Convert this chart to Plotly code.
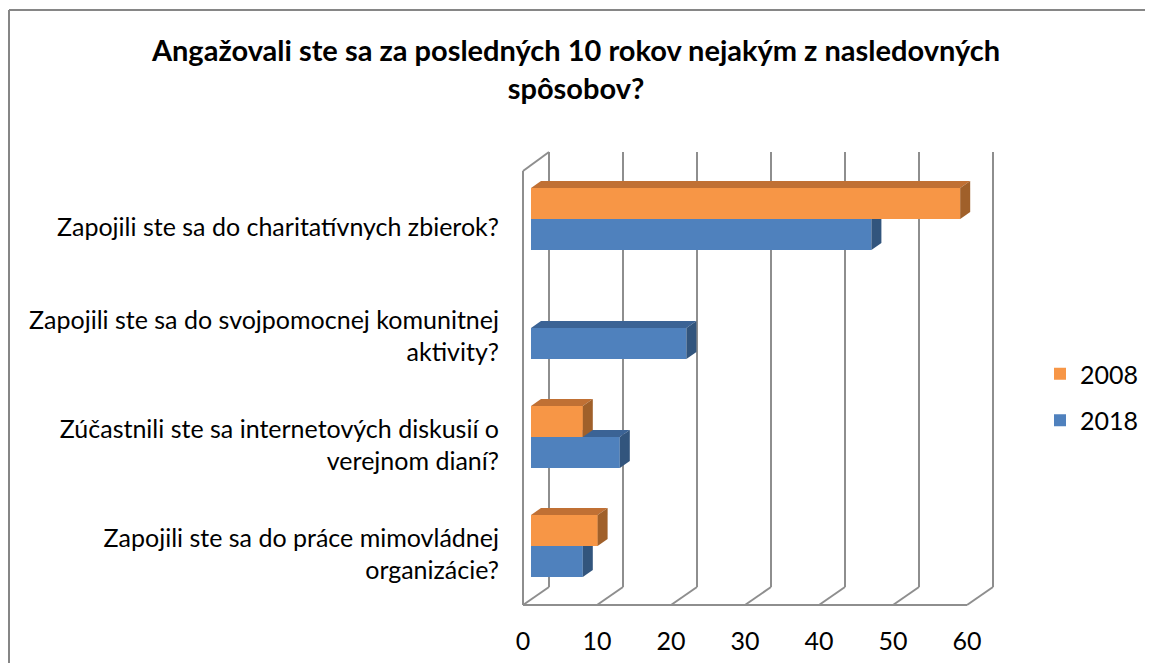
import plotly.graph_objects as go

# ---------------- data ----------------
categories = [
    "Zapojili ste sa do charitatívnych zbierok?",
    "Zapojili ste sa do svojpomocnej komunitnej<br>aktivity?",
    "Zúčastnili ste sa internetových diskusií o<br>verejnom dianí?",
    "Zapojili ste sa do práce mimovládnej<br>organizácie?",
]
values_2008 = [58, None, 7, 9]
values_2018 = [46, 21, 12, 7]
series_names = ["2008", "2018"]
x_ticks = [0, 10, 20, 30, 40, 50, 60]
title_text = "Angažovali ste sa za posledných 10 rokov nejakým z nasledovných<br>spôsobov?"

# ---------------- styling ----------------
W, H = 1153, 671
OFF = 8                      # browser body margin
W_FIG, H_FIG = W - 2 * OFF, H - 2 * OFF
PLOT_L, PLOT_R, PLOT_T, PLOT_B = 520, 1000, 140, 610   # in page pixels
PX_X = 7.4          # pixels per unit on x
PX_Y = 109.0        # pixels per category
X0_PX = 531         # pixel of value 0 on bars' front face
CAT0_PX = 219       # pixel of first category centre
X_RANGE = [(PLOT_L - X0_PX) / PX_X, (PLOT_R - X0_PX) / PX_X]
Y_RANGE = [(PLOT_B - CAT0_PX) / PX_Y, (PLOT_T - CAT0_PX) / PX_Y]  # reversed

BAR_W = 31 / PX_Y
DX = 10 / PX_X      # bar depth offset (x)
DY = 7 / PX_Y       # bar depth offset (y, upward)

FRONT_SHIFT = -8 / PX_X     # floor front edge relative to bar zero
BACK_SHIFT = 18 / PX_X      # back wall relative to bar zero
FLOOR_FRONT_Y = (605 - CAT0_PX) / PX_Y
FLOOR_BACK_Y = (587 - CAT0_PX) / PX_Y
WALL_TOP_BACK_Y = (152 - CAT0_PX) / PX_Y
WALL_TOP_FRONT_Y = (171 - CAT0_PX) / PX_Y

ORANGE = "#F79646"; ORANGE_TOP = "#C07034"; ORANGE_SIDE = "#A0602A"
BLUE = "#4F81BD"; BLUE_TOP = "#3B6395"; BLUE_SIDE = "#32557D"
GRID = "#8E8E8E"
FONT = "Lato"
LABEL_SIZE = 25
TITLE_SIZE = 29

fig = go.Figure()

fig.add_trace(go.Bar(
    y=list(range(len(categories))), x=values_2008, orientation="h",
    name=series_names[0], marker=dict(color=ORANGE, line=dict(width=0)),
    width=BAR_W, offset=-BAR_W, legendgroup="a",
))
fig.add_trace(go.Bar(
    y=list(range(len(categories))), x=values_2018, orientation="h",
    name=series_names[1], marker=dict(color=BLUE, line=dict(width=0)),
    width=BAR_W, offset=0, legendgroup="b",
))


def poly(xs, ys, color):
    fig.add_trace(go.Scatter(
        x=xs + [xs[0]], y=ys + [ys[0]], mode="lines", fill="toself",
        fillcolor=color, line=dict(width=0, color=color),
        hoverinfo="skip", showlegend=False,
    ))


# 3D faces drawn back to front
for i in range(len(categories)):
    o = values_2008[i]
    b = values_2018[i]
    c = i
    if b:
        top = c
        bot = c + BAR_W
        poly([0, b, b + DX, DX], [top, top, top - DY, top - DY], BLUE_TOP)
        poly([b, b, b + DX, b + DX], [top, bot, bot - DY, top - DY], BLUE_SIDE)
    if o:
        top = c - BAR_W
        bot = c
        poly([0, o, o, 0], [top, top, bot, bot], ORANGE)
        poly([0, o, o + DX, DX], [top, top, top - DY, top - DY], ORANGE_TOP)
        poly([o, o, o + DX, o + DX], [top, bot, bot - DY, top - DY], ORANGE_SIDE)

# walls / floor / gridlines
shapes = []
line = dict(color=GRID, width=2)
for t in x_ticks:
    shapes.append(dict(type="line", xref="x", yref="y", layer="below",
                       x0=t + BACK_SHIFT, x1=t + BACK_SHIFT,
                       y0=WALL_TOP_BACK_Y, y1=FLOOR_BACK_Y, line=line))
    shapes.append(dict(type="line", xref="x", yref="y", layer="below",
                       x0=t + FRONT_SHIFT, x1=t + BACK_SHIFT,
                       y0=FLOOR_FRONT_Y, y1=FLOOR_BACK_Y, line=line))
shapes.append(dict(type="line", xref="x", yref="y", layer="below",
                   x0=x_ticks[0] + FRONT_SHIFT, x1=x_ticks[-1] + FRONT_SHIFT,
                   y0=FLOOR_FRONT_Y, y1=FLOOR_FRONT_Y, line=line))
shapes.append(dict(type="line", xref="x", yref="y", layer="below",
                   x0=x_ticks[0] + FRONT_SHIFT, x1=x_ticks[0] + FRONT_SHIFT,
                   y0=FLOOR_FRONT_Y, y1=WALL_TOP_FRONT_Y, line=line))
shapes.append(dict(type="line", xref="x", yref="y", layer="below",
                   x0=x_ticks[0] + FRONT_SHIFT, x1=x_ticks[0] + BACK_SHIFT,
                   y0=WALL_TOP_FRONT_Y, y1=WALL_TOP_BACK_Y, line=line))


# outer chart border (paper coords): only top and left edges are in view
def px_to_paper_x(px):
    return (px - PLOT_L) / (PLOT_R - PLOT_L)


def px_to_paper_y(py):
    return (PLOT_B - py) / (PLOT_B - PLOT_T)


border = dict(color="#868686", width=2)
shapes.append(dict(type="line", xref="paper", yref="paper", layer="above",
                   x0=px_to_paper_x(9), x1=px_to_paper_x(W + 40),
                   y0=px_to_paper_y(10), y1=px_to_paper_y(10), line=border))
shapes.append(dict(type="line", xref="paper", yref="paper", layer="above",
                   x0=px_to_paper_x(9), x1=px_to_paper_x(9),
                   y0=px_to_paper_y(10), y1=px_to_paper_y(H + 40), line=border))

fig.update_layout(
    width=W_FIG, height=H_FIG,
    margin=dict(l=PLOT_L - OFF, r=W_FIG - (PLOT_R - OFF), t=PLOT_T - OFF,
                b=H_FIG - (PLOT_B - OFF), pad=0, autoexpand=False),
    paper_bgcolor="white", plot_bgcolor="white",
    font=dict(family=FONT, size=LABEL_SIZE, color="#000000"),
    title=dict(text=title_text, x=(576 - OFF) / W_FIG, xref="container", xanchor="center",
               y=1 - (61 - OFF) / H_FIG, yanchor="middle", yref="container",
               font=dict(family=FONT, size=TITLE_SIZE, color="#000000", weight="bold")),
    barmode="overlay",
    showlegend=True,
    legend=dict(x=px_to_paper_x(1040), y=px_to_paper_y(397), xanchor="left",
                yanchor="middle", font=dict(size=LABEL_SIZE), traceorder="grouped",
                tracegroupgap=11, bgcolor="rgba(0,0,0,0)"),
    shapes=shapes,
    xaxis=dict(range=X_RANGE, tickvals=x_ticks, showgrid=False, zeroline=False,
               showline=False, ticks="outside", ticklen=9, tickcolor="rgba(0,0,0,0)",
               ticklabelshift=-8, tickfont=dict(size=LABEL_SIZE), fixedrange=True),
    yaxis=dict(range=Y_RANGE, tickvals=list(range(len(categories))), ticktext=categories,
               showgrid=False, zeroline=False, showline=False, ticks="outside",
               ticklen=15, tickcolor="rgba(0,0,0,0)", ticklabelshift=-8,
               tickfont=dict(size=LABEL_SIZE), fixedrange=True),
)

fig.write_html("out.html")
